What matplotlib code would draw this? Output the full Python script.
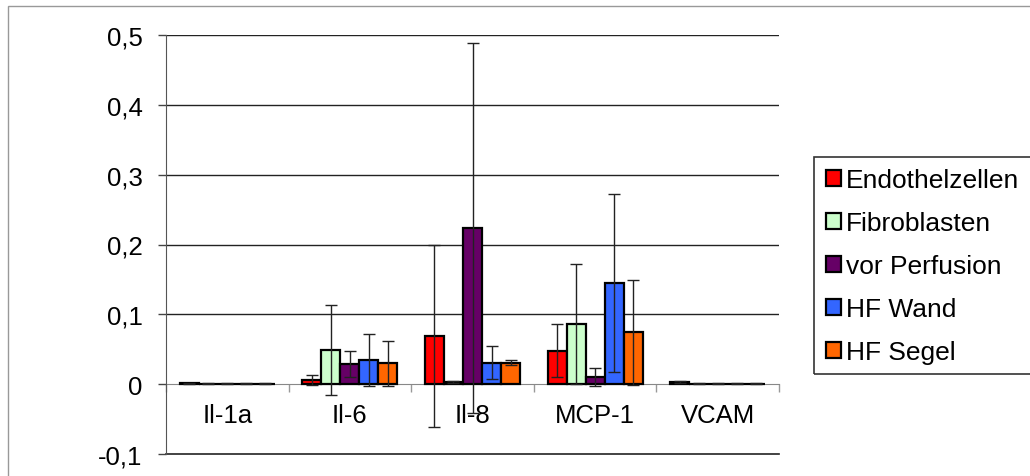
import matplotlib
matplotlib.use("Agg")
import matplotlib.pyplot as plt
import numpy as np
from matplotlib.patches import Rectangle, Patch

plt.rcParams['font.family'] = ['Liberation Sans', 'DejaVu Sans']

categories = ["Il-1a", "Il-6", "Il-8", "MCP-1", "VCAM"]
series = ["Endothelzellen", "Fibroblasten", "vor Perfusion", "HF Wand", "HF Segel"]
colors = ["#FF0000", "#CCFFCC", "#660066", "#3366FF", "#FF6600"]

# mean values per series, one per category
endothel = [0.001, 0.006, 0.069, 0.048, 0.003]
fibro = [0.0005, 0.049, 0.003, 0.086, 0.0005]
vor_perf = [0.0005, 0.029, 0.224, 0.010, 0.0005]
hf_wand = [0.0005, 0.035, 0.031, 0.145, 0.0005]
hf_segel = [0.0005, 0.030, 0.031, 0.074, 0.0005]

# error (std) values
endothel_err = [0.0005, 0.007, 0.130, 0.038, 0.001]
fibro_err = [0.0005, 0.065, 0.002, 0.086, 0.0005]
vor_perf_err = [0.0005, 0.019, 0.265, 0.013, 0.0005]
hf_wand_err = [0.0005, 0.037, 0.023, 0.128, 0.0005]
hf_segel_err = [0.0005, 0.032, 0.004, 0.075, 0.0005]

values = [endothel, fibro, vor_perf, hf_wand, hf_segel]
errors = [endothel_err, fibro_err, vor_perf_err, hf_wand_err, hf_segel_err]

W, H = 1030, 477
fs = 18.5
fig = plt.figure(figsize=(W / 100, H / 100), dpi=100)
ax = fig.add_axes([166 / W, 22 / H, 613 / W, 419 / H])

x = np.arange(len(categories))
bw = 0.155
for i, (vals, errs) in enumerate(zip(values, errors)):
    pos = x + (i - 2) * bw
    ax.bar(pos, vals, bw, color=colors[i], edgecolor="black", linewidth=1.6, zorder=3)
    ax.errorbar(pos, vals, yerr=errs, fmt="none", ecolor="#222222", elinewidth=1,
                capsize=4.3, capthick=1, zorder=4)

ax.set_xlim(-0.5, len(categories) - 0.5)
ax.set_ylim(-0.1, 0.5)
yt = [-0.1, 0, 0.1, 0.2, 0.3, 0.4, 0.5]
ax.set_yticks(yt)
ax.set_yticklabels([("%g" % v).replace(".", ",") for v in yt], fontsize=fs)
ax.tick_params(axis="y", length=6, width=1, color="#444444", pad=11)
for v in yt[2:]:
    ax.axhline(v, color="#222222", lw=1, zorder=1)

ax.spines["top"].set_visible(False)
ax.spines["right"].set_visible(False)
ax.spines["left"].set_color("#555555")
ax.spines["bottom"].set_position(("data", 0))
ax.spines["bottom"].set_color("#888888")
ax.spines["bottom"].set_zorder(2)
ax.axhline(-0.1, color="#222222", lw=1.2, zorder=1, clip_on=False)
ax.set_xticks(np.arange(-0.5, len(categories)))
ax.set_xticklabels([])
ax.tick_params(axis="x", length=6, width=1, color="#999999", direction="out")

for xi, c in zip(x, categories):
    ax.text(xi, -0.044, c, ha="center", va="center", fontsize=fs)

# legend
handles = [Patch(facecolor=c, edgecolor="black", linewidth=1.6) for c in colors]
leg = fig.legend(handles, series, loc="upper left",
                 bbox_to_anchor=(826 / W, 1 - 169 / H), frameon=False,
                 fontsize=19, handlelength=0.55, handleheight=0.55,
                 handletextpad=0.22, labelspacing=0.72, borderaxespad=0,
                 borderpad=0)
fig.patches.append(Rectangle((814 / W, 1 - 375 / H), 0.3, 217 / H,
                             transform=fig.transFigure, fill=False,
                             edgecolor="#333333", lw=1.2))
# outer frame
fig.patches.append(Rectangle((8 / W, -0.1), 1.2, 1 - 7 / H + 0.1,
                             transform=fig.transFigure, fill=False,
                             edgecolor="#999999", lw=1))

fig.savefig("out.png", dpi=100)
